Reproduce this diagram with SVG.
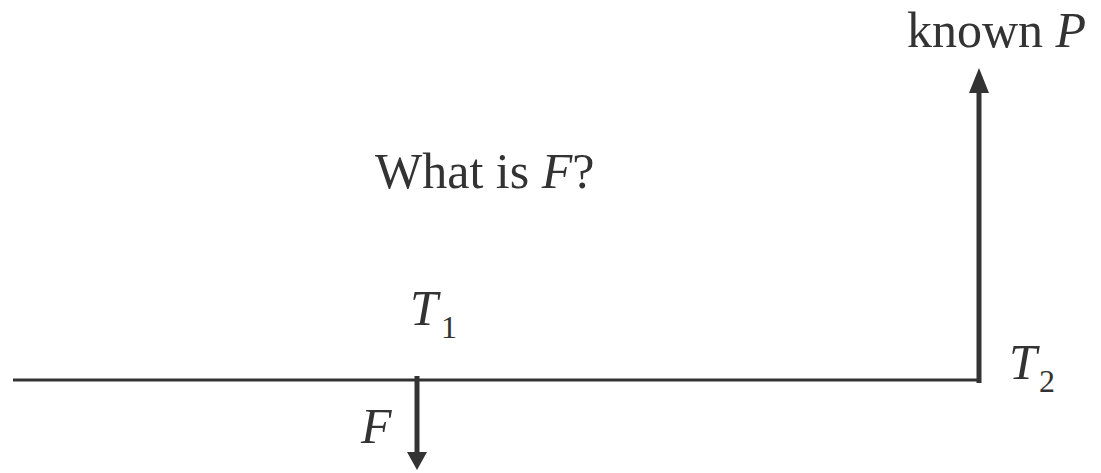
<svg xmlns="http://www.w3.org/2000/svg" width="1101" height="473" viewBox="0 0 1101 473">
<style>
text{font-family:"Liberation Serif","Times New Roman",serif;fill:#333;font-size:50px}
.i{font-style:italic}
.sub{font-size:32px}
</style>
<rect width="1101" height="473" fill="#fff"/>
<g id="connectors">
<line x1="13" y1="380" x2="981" y2="380" stroke="#333" stroke-width="3"/>
<line x1="979" y1="383" x2="979" y2="90" stroke="#333" stroke-width="5"/>
<polygon points="979,68 969,93 989,93" fill="#333"/>
<line x1="417" y1="376" x2="417" y2="452" stroke="#333" stroke-width="5"/>
<polygon points="417,470 407,452 427,452" fill="#333"/>
</g>
<g id="knownP"><text x="907" y="47">known <tspan class="i">P</tspan></text></g>
<g id="question"><text x="375" y="188">What is <tspan class="i">F</tspan>?</text></g>
<g id="T1"><text class="i" x="410" y="325">T</text><text class="sub" x="441" y="338">1</text></g>
<g id="F"><text class="i" x="361" y="443">F</text></g>
<g id="T2"><text class="i" x="1009" y="379">T</text><text class="sub" x="1039" y="392">2</text></g>
</svg>
